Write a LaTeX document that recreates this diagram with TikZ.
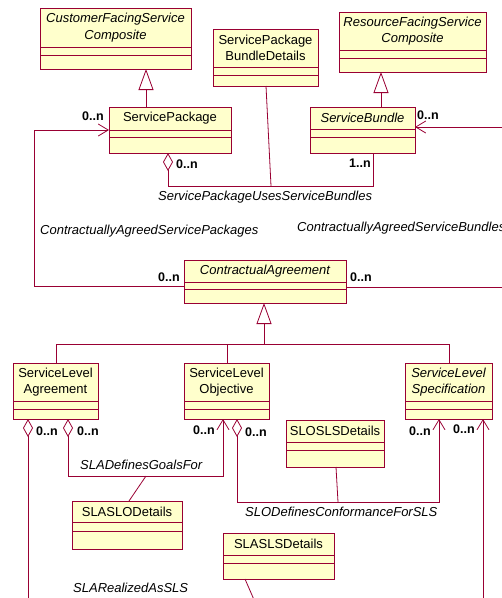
\documentclass[tikz,border=0pt]{standalone}
\usepackage{fontspec}
\setmainfont{Liberation Sans}
\usetikzlibrary{arrows.meta}
\definecolor{umlred}{RGB}{153,0,51}
\definecolor{umlfill}{RGB}{255,255,204}
\tikzset{
  clsbox/.style={draw=umlred, fill=umlfill, line width=1pt, inner sep=0pt, outer sep=0pt},
  sepline/.style={draw=umlred, line width=0.9pt},
  clstitle/.style={align=center, font=\fontsize{13}{16.5}\selectfont, inner sep=0pt},
  conn/.style={draw=umlred, line width=0.8pt},
  gen/.style={conn, -{Triangle[open, length=21pt, width=15pt]}},
  agg/.style={conn, {Diamond[open, length=18pt, width=10pt]}-},
  aggnav/.style={conn, {Diamond[open, length=18pt, width=10pt]}-{Straight Barb[length=10pt, width=12pt]}},
  nav/.style={conn, -{Straight Barb[length=10pt, width=12pt]}},
  mult/.style={font=\fontsize{12.5}{14}\selectfont\bfseries, inner sep=0pt, anchor=west},
  assoc/.style={font=\fontsize{13}{15}\selectfont\itshape, inner sep=0pt, anchor=west},
}
% name, x1, y1, x2, y2, sep1, sep2, text
\newcommand\umlclass[8]{%
  \node[clsbox, minimum width={(#4-#2)*1pt}, minimum height={(#5-#3)*1pt}] (#1) at ({(#2+#4)/2},{(#3+#5)/2}) {};
  \draw[sepline] (#2,#6) -- (#4,#6) (#2,#7) -- (#4,#7);
  \node[clstitle] (#1-t) at ({(#2+#4)/2},{(#3+#6)/2}) {#8};
}
\begin{document}
\begin{tikzpicture}[x=1pt, y=-1pt]
\useasboundingbox (0,0) rectangle (502,598);
\begin{scope}
\clip (0,0) rectangle (502,598);

% classes
\umlclass{CFSC}{40}{8}{191}{69}{47}{55}{\itshape CustomerFacingService\\\itshape Composite}
\umlclass{SPBD}{213}{29}{318}{86}{67}{75}{ServicePackage\\BundleDetails}
\umlclass{RFSC}{339}{12}{486}{72}{50}{58}{\itshape ResourceFacingService\\\itshape Composite}
\umlclass{SP}{109}{107}{231}{153}{130}{137}{ServicePackage}
\umlclass{SB}{310}{107}{415}{153}{129}{137}{\itshape ServiceBundle}
\umlclass{CA}{184}{260}{346}{303}{282}{289}{\itshape ContractualAgreement}
\umlclass{SLA}{13}{363}{98}{419}{401}{409}{ServiceLevel\\Agreement}
\umlclass{SLO}{184}{363}{269}{419}{401}{409}{ServiceLevel\\Objective}
\umlclass{SLS}{405}{363}{492}{419}{401}{409}{\itshape ServiceLevel\\\itshape Specification}
\umlclass{SLASLOD}{72}{501}{182}{549}{522}{531}{SLASLODetails}
\umlclass{SLOSLSD}{286}{420}{384}{467}{442}{450}{SLOSLSDetails}
\umlclass{SLASLSD}{223}{533}{334}{579}{555}{563}{SLASLSDetails}

% helper coordinates
\coordinate (g1) at (146,0);
\coordinate (g2) at (381,0);
\coordinate (hj) at (264,344);
\coordinate (ha) at (56,344);
\coordinate (hb) at (227,344);
\coordinate (hc) at (449,344);
\coordinate (d1) at (168,0);
\coordinate (b1) at (373,186);
\coordinate (q1) at (266,0);
\coordinate (q2) at (271,186);
\coordinate (c1) at (34,286);
\coordinate (c2) at (34,130);
\coordinate (c3) at (506,287);
\coordinate (c4) at (506,127);
\coordinate (e1) at (28,602);
\coordinate (e2) at (68,476);
\coordinate (e3) at (223,476);
\coordinate (p1) at (129,0);
\coordinate (p2) at (146,476);
\coordinate (f1) at (237,502);
\coordinate (f2) at (439,502);
\coordinate (r1) at (336,0);
\coordinate (r2) at (338,502);
\coordinate (k1) at (483,602);
\coordinate (m1) at (245,0);
\coordinate (m2) at (255,602);

% generalizations
\draw[gen] (SP.north -| g1) -- (CFSC.south -| g1);
\draw[gen] (SB.north -| g2) -- (RFSC.south -| g2);
\draw[conn] (SLA.north -| ha) -- (ha) -- (hc) -- (SLS.north -| hc);
\draw[conn] (SLO.north -| hb) -- (hb);
\draw[gen] (hj) -- (CA.south -| hj);

% associations
\draw[agg] (SP.south -| d1) |- (b1) -- (SB.south -| b1);
\draw[conn] (SPBD.south -| q1) -- (q2);
\draw[nav] (CA.west |- c1) -- (c1) -- (c2) -- (SP.west |- c2);
\draw[conn] (CA.east |- c3) -- (c3);
\draw[nav] (c4) -- (SB.east |- c4);
\draw[agg] (SLA.south -| e1) -- (e1);
\draw[aggnav] (SLA.south -| e2) -- (e2) -- (e3) -- (SLO.south -| e3);
\draw[conn] (SLASLOD.north -| p1) -- (p2);
\draw[aggnav] (SLO.south -| f1) -- (f1) -- (f2) -- (SLS.south -| f2);
\draw[conn] (SLOSLSD.south -| r1) -- (r2);
\draw[nav] (k1) -- (SLS.south -| k1);
\draw[conn] (SLASLSD.south -| m1) -- (m2);

% multiplicities
\node[mult] (m-sp) at (82,116) {0..n};
\node[mult] (m-spd) at (176,164) {0..n};
\node[mult] (m-sb1) at (349,163) {1..n};
\node[mult] (m-sb) at (417,115) {0..n};
\node[mult] (m-cal) at (158,277) {0..n};
\node[mult] (m-car) at (350,277) {0..n};
\node[mult] (m-sla1) at (36,431) {0..n};
\node[mult] (m-sla2) at (77,431) {0..n};
\node[mult] (m-slo1) at (193,430) {0..n};
\node[mult] (m-slo2) at (245,432) {0..n};
\node[mult] (m-sls1) at (409,431) {0..n};
\node[mult] (m-sls2) at (453,429) {0..n};

% association names
\node[assoc] (a1) at (158,197) {ServicePackageUsesServiceBundles};
\node[assoc] (a2) at (40,231) {ContractuallyAgreedServicePackages};
\node[assoc] (a3) at (297,228) {ContractuallyAgreedServiceBundles};
\node[assoc] (a4) at (80,465) {SLADefinesGoalsFor};
\node[assoc] (a5) at (245,512) {SLODefinesConformanceForSLS};
\node[assoc] (a6) at (73,588) {SLARealizedAsSLS};
\end{scope}
\end{tikzpicture}
\end{document}
